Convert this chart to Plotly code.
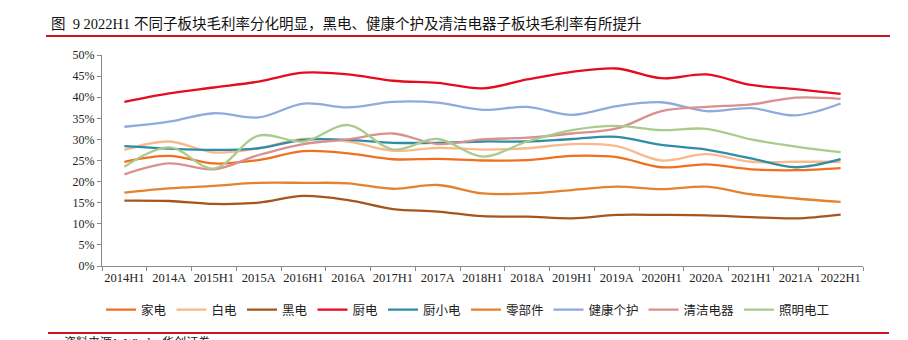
import plotly.graph_objects as go

categories = ["2014H1", "2014A", "2015H1", "2015A", "2016H1", "2016A", "2017H1", "2017A", "2018H1",
              "2018A", "2019H1", "2019A", "2020H1", "2020A", "2021H1", "2021A", "2022H1"]

jiadian = [24.7, 26.1, 24.3, 25.1, 27.2, 26.7, 25.3, 25.4, 25.0, 25.1, 26.1, 25.8, 23.4, 24.1, 22.9, 22.7, 23.2]
baidian = [27.5, 29.5, 26.9, 27.9, 30.1, 29.5, 27.3, 28.0, 27.6, 27.9, 28.9, 28.4, 25.0, 26.5, 24.7, 24.7, 24.7]
heidian = [15.5, 15.4, 14.7, 15.0, 16.6, 15.6, 13.5, 12.9, 11.8, 11.7, 11.3, 12.1, 12.1, 12.0, 11.6, 11.3, 12.2]
chudian = [38.9, 40.9, 42.3, 43.7, 45.8, 45.4, 43.9, 43.4, 42.1, 44.2, 46.0, 46.8, 44.5, 45.4, 42.9, 41.9, 40.8]
chuxiaodian = [28.4, 27.8, 27.5, 27.9, 29.9, 29.9, 29.2, 29.2, 29.5, 29.5, 30.1, 30.6, 28.7, 27.6, 25.5, 23.4, 25.3]
lingbujian = [17.4, 18.4, 19.0, 19.7, 19.7, 19.6, 18.3, 19.2, 17.2, 17.2, 18.0, 18.8, 18.2, 18.8, 17.0, 16.0, 15.2]
jiankang = [33.0, 34.2, 36.2, 35.2, 38.5, 37.6, 38.9, 38.7, 37.0, 37.7, 35.8, 37.9, 38.8, 36.7, 37.4, 35.7, 38.5]
qingjie = [21.7, 24.3, 22.9, 26.3, 28.9, 30.0, 31.4, 28.9, 30.0, 30.4, 31.4, 32.6, 36.7, 37.7, 38.3, 39.9, 39.6]
zhaoming = [23.5, 28.1, 23.1, 30.9, 29.5, 33.4, 27.6, 30.1, 25.9, 29.5, 32.2, 33.2, 32.2, 32.5, 30.0, 28.3, 27.0]

series = [
    ("家电", jiadian, "#F07020"),
    ("白电", baidian, "#F8B98B"),
    ("黑电", heidian, "#A5561E"),
    ("厨电", chudian, "#E60B1E"),
    ("厨小电", chuxiaodian, "#2F8DA8"),
    ("零部件", lingbujian, "#E3822F"),
    ("健康个护", jiankang, "#8FAADC"),
    ("清洁电器", qingjie, "#D9908F"),
    ("照明电工", zhaoming, "#A9CC8C"),
]

W, H = 908, 340
L, R, T, B = 102, 45, 55, 74
PW, PH = W - L - R, H - T - B


def px(x):
    return (x - L) / PW


def py(y):
    return (H - B - y) / PH


fig = go.Figure()
for name, vals, color in series:
    fig.add_trace(go.Scatter(
        x=categories, y=[v / 100 for v in vals], name=name, mode="lines",
        line=dict(color=color, width=2.3, shape="spline", smoothing=1.0),
    ))

serif = "Liberation Serif, Times New Roman, Noto Sans CJK SC, serif"
cjk = "Noto Sans CJK SC, sans-serif"

fig.update_layout(
    width=W, height=H,
    margin=dict(l=L, r=R, t=T, b=B),
    paper_bgcolor="white", plot_bgcolor="white",
    showlegend=True,
    legend=dict(orientation="h", x=px(468), xanchor="center", y=py(310), yanchor="middle",
                font=dict(family=cjk, size=12.5, color="#222"), itemwidth=30,
                tracegroupgap=0, bgcolor="rgba(0,0,0,0)"),
    xaxis=dict(type="category", showgrid=False, showline=True, linecolor="#8a8a8a", linewidth=1,
               ticks="outside", tickson="boundaries", ticklen=4, tickcolor="#8a8a8a",
               tickfont=dict(family=serif, size=12.5, color="#222"), tickangle=0,
               range=[-0.5, len(categories) - 0.5]),
    yaxis=dict(range=[0, 0.5], dtick=0.05, tickformat=".0%", showgrid=False, showline=True,
               linecolor="#8a8a8a", linewidth=1, ticks="outside", ticklen=4, tickcolor="#8a8a8a",
               tickfont=dict(family=serif, size=12, color="#222"), zeroline=False),
    font=dict(family=serif),
)

fig.add_annotation(
    text="图  9 2022H1 不同子板块毛利率分化明显，黑电、健康个护及清洁电器子板块毛利率有所提升",
    xref="paper", yref="paper", x=px(49), y=py(24), xanchor="left", yanchor="middle",
    showarrow=False, font=dict(family=serif, size=14.5, color="#111"),
)
fig.add_annotation(
    text="资料来源：Wind，华创证券",
    xref="paper", yref="paper", x=px(62), y=py(333), xanchor="left", yanchor="top",
    showarrow=False, font=dict(family=serif, size=12, color="#111"),
)

fig.add_shape(type="line", xref="paper", yref="paper", x0=px(46), x1=px(890), y0=py(36), y1=py(36),
              line=dict(color="#C8161D", width=2))
fig.add_shape(type="line", xref="paper", yref="paper", x0=px(48), x1=px(889), y0=py(333), y1=py(333),
              line=dict(color="#C8161D", width=2))

fig.write_html("out.html")
